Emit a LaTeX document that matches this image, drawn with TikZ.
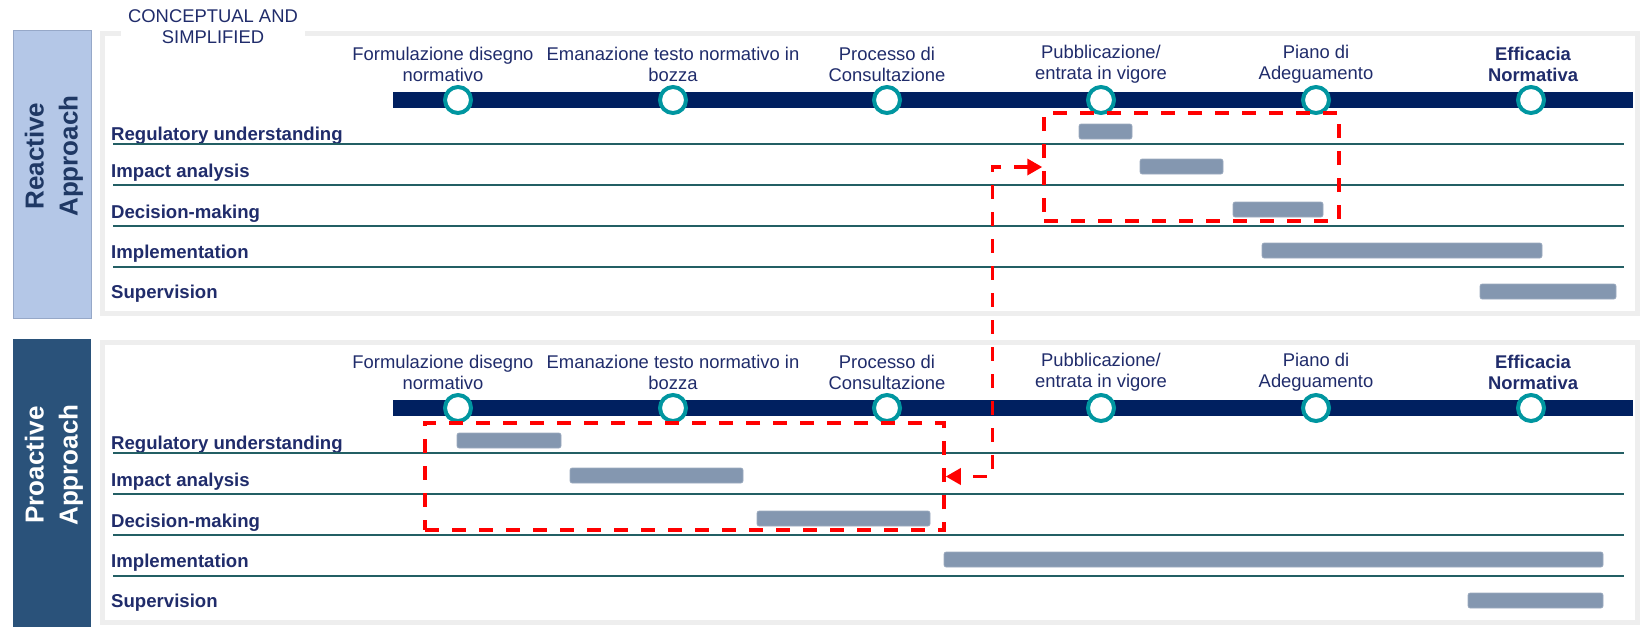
\documentclass[tikz,border=0pt]{standalone}
\usepackage{fontspec}
\setmainfont{Liberation Sans}
\usepackage{tikz}
\usetikzlibrary{arrows.meta, positioning, fit}

\definecolor{navytext}{RGB}{32,44,107}
\definecolor{tabtext}{RGB}{31,56,100}
\definecolor{barnavy}{RGB}{0,32,96}
\definecolor{tealring}{RGB}{0,150,160}
\definecolor{ganttgray}{RGB}{132,151,176}
\definecolor{rowteal}{RGB}{35,95,100}
\definecolor{panelgray}{RGB}{238,238,238}
\definecolor{reactfill}{RGB}{180,199,231}
\definecolor{reactedge}{RGB}{150,168,200}
\definecolor{proactfill}{RGB}{42,82,122}

\tikzstyle{tabbox} = [rectangle, minimum width=78pt, minimum height=288pt, inner sep=0pt]
\tikzstyle{tabtitle} = [rotate=90, align=center, inner sep=0pt, font=\bfseries\fontsize{26}{34}\selectfont]
\tikzstyle{panelbox} = [rectangle, draw=panelgray, line width=5pt, fill=white, inner sep=0pt]
\tikzstyle{phaselabel} = [align=center, text=navytext, inner sep=0pt, font=\fontsize{18.4}{21}\selectfont]
\tikzstyle{milestone} = [circle, draw=tealring, line width=4pt, fill=white, minimum size=26pt, inner sep=0pt]
\tikzstyle{timebar} = [rectangle, fill=barnavy, minimum width=1240pt, minimum height=16pt, inner sep=0pt]
\tikzstyle{tasklabel} = [anchor=west, text=navytext, inner sep=0pt, font=\bfseries\fontsize{18.6}{21}\selectfont]
\tikzstyle{rowrule} = [draw=rowteal, line width=2pt]
\tikzstyle{ganttbar} = [fill=ganttgray, draw=ganttgray!80!white, line width=0.6pt, rounded corners=2pt]
\tikzstyle{redbox} = [rectangle, draw=red, line width=3.5pt, dash pattern=on 14pt off 13pt, inner sep=0pt]
\tikzstyle{link} = [draw=red, line width=3.5pt, dash pattern=on 14pt off 13pt, {Triangle[length=15pt,width=16pt]}-{Triangle[length=15pt,width=16pt]}]

\begin{document}
\begin{tikzpicture}[x=1pt, y=-1pt]

\fill[white] (0,0) rectangle (1645,627);
\useasboundingbox (0,0) rectangle (1645,627);

% reactive approach
\node (rtab) [tabbox, fill=reactfill, draw=reactedge, line width=1pt] at (52,174) {};
\node (rtitle) [tabtitle, text=tabtext] at (54,156) {Reactive\\Approach};
\node (rpanel) [panelbox, fit={(102,33) (1637,313)}] {};
\node (note) [phaselabel, fill=white, minimum width=184pt, minimum height=38pt] at (213,27) {CONCEPTUAL AND\\SIMPLIFIED};

\node (rbar) [timebar] at (1013,100) {};
\node (r1) [milestone] at (458,100) {};
\node (r2) [milestone] at (673,100) {};
\node (r3) [milestone] at (887,100) {};
\node (r4) [milestone] at (1101,100) {};
\node (r5) [milestone] at (1316,100) {};
\node (r6) [milestone] at (1531,100) {};

\node (rform) [phaselabel] at (443,64) {Formulazione disegno\\normativo};
\node (rdraft) [phaselabel] at (673,64) {Emanazione testo normativo in\\bozza};
\node (rcons) [phaselabel] at (887,64) {Processo di\\Consultazione};
\node (rpubl) [phaselabel] at (1101,64) {Pubblicazione/\\entrata in vigore};
\node (rplan) [phaselabel] at (1316,64) {Piano di\\Adeguamento};
\node (reff) [phaselabel, font=\bfseries\fontsize{18.4}{21}\selectfont] at (1533,64) {Efficacia\\Normativa};

\node (rreg) [tasklabel] at (111,136) {Regulatory understanding};
\node (rimp) [tasklabel] at (111,173) {Impact analysis};
\node (rdec) [tasklabel] at (111,214) {Decision-making};
\node (rimpl) [tasklabel] at (111,254) {Implementation};
\node (rsup) [tasklabel] at (111,294) {Supervision};

\draw [rowrule] (113,144) -- (1624,144);
\draw [rowrule] (113,185) -- (1624,185);
\draw [rowrule] (113,226) -- (1624,226);
\draw [rowrule] (113,267) -- (1624,267);

\draw [ganttbar] (1079,124) rectangle (1132,139);
\draw [ganttbar] (1140,159) rectangle (1223,174);
\draw [ganttbar] (1233,202) rectangle (1323,217);
\draw [ganttbar] (1262,243) rectangle (1542,258);
\draw [ganttbar] (1480,284) rectangle (1616,299);

\node (rfocus) [redbox, fit={(1044,113) (1339,221)}] {};

% proactive approach
\node (ptab) [tabbox, fill=proactfill] at (52,483) {};
\node (ptitle) [tabtitle, text=white] at (54,465) {Proactive\\Approach};
\node (ppanel) [panelbox, fit={(102,342) (1637,622)}] {};

\node (pbar) [timebar] at (1013,408) {};
\node (p1) [milestone] at (458,408) {};
\node (p2) [milestone] at (673,408) {};
\node (p3) [milestone] at (887,408) {};
\node (p4) [milestone] at (1101,408) {};
\node (p5) [milestone] at (1316,408) {};
\node (p6) [milestone] at (1531,408) {};

\node (pform) [phaselabel] at (443,372) {Formulazione disegno\\normativo};
\node (pdraft) [phaselabel] at (673,372) {Emanazione testo normativo in\\bozza};
\node (pcons) [phaselabel] at (887,372) {Processo di\\Consultazione};
\node (ppubl) [phaselabel] at (1101,372) {Pubblicazione/\\entrata in vigore};
\node (pplan) [phaselabel] at (1316,372) {Piano di\\Adeguamento};
\node (peff) [phaselabel, font=\bfseries\fontsize{18.4}{21}\selectfont] at (1533,372) {Efficacia\\Normativa};

\node (preg) [tasklabel] at (111,445) {Regulatory understanding};
\node (pimp) [tasklabel] at (111,482) {Impact analysis};
\node (pdec) [tasklabel] at (111,523) {Decision-making};
\node (pimpl) [tasklabel] at (111,563) {Implementation};
\node (psup) [tasklabel] at (111,603) {Supervision};

\draw [rowrule] (113,453) -- (1624,453);
\draw [rowrule] (113,494) -- (1624,494);
\draw [rowrule] (113,535) -- (1624,535);
\draw [rowrule] (113,576) -- (1624,576);

\draw [ganttbar] (457,433) rectangle (561,448);
\draw [ganttbar] (570,468) rectangle (743,483);
\draw [ganttbar] (757,511) rectangle (930,526);
\draw [ganttbar] (944,552) rectangle (1603,567);
\draw [ganttbar] (1468,593) rectangle (1603,608);

\node (pfocus) [redbox, fit={(425,423) (944,530)}] {};

\draw [link] (rfocus.west) -- ++(-50,0) |- (pfocus.east);

\end{tikzpicture}
\end{document}
